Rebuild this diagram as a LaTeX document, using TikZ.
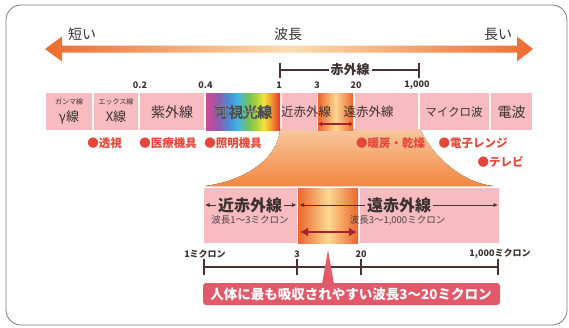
\documentclass[tikz,border=0pt]{standalone}
\usepackage{fontspec}
\setmainfont{Noto Sans CJK JP}
\usetikzlibrary{arrows.meta}
\definecolor{pinkbox}{HTML}{F7BBC0}
\definecolor{darktxt}{HTML}{3B3131}
\definecolor{graytxt}{HTML}{4A4444}
\definecolor{redtxt}{HTML}{E4473A}
\definecolor{orgA}{HTML}{EC652B}
\definecolor{orgB}{HTML}{FDD892}
\definecolor{arrEnd}{HTML}{EF6B2F}
\definecolor{arrMid}{HTML}{FCDDB0}
\definecolor{fanTop}{HTML}{F9C7A0}
\definecolor{fanBot}{HTML}{F3873F}
\definecolor{bannerc}{HTML}{E25A69}
\definecolor{darkred}{HTML}{A3222B}
\definecolor{framegray}{HTML}{7C7C7C}
\definecolor{brownline}{HTML}{4A3232}
\definecolor{rbA}{HTML}{D04A98}
\definecolor{rbB}{HTML}{9558A8}
\definecolor{rbC}{HTML}{4E8BD0}
\definecolor{rbD}{HTML}{40B4E4}
\definecolor{rbE}{HTML}{78C155}
\definecolor{rbF}{HTML}{A9CF3C}
\definecolor{rbG}{HTML}{F3E53A}
\definecolor{rbH}{HTML}{F49A30}
\definecolor{rbI}{HTML}{E5352A}
\pgfdeclarehorizontalshading{rainbow}{100bp}{color(0bp)=(rbA); color(25bp)=(rbA); color(32.5bp)=(rbB); color(40bp)=(rbC); color(46bp)=(rbD); color(54bp)=(rbE); color(59bp)=(rbF); color(64bp)=(rbG); color(69bp)=(rbH); color(75bp)=(rbI); color(100bp)=(rbI)}
\newcommand{\outl}[1]{\special{pdf:literal 2 Tr 0.7 w 0.3 0.3 0.3 RG}#1\special{pdf:literal 0 Tr}}
\newcommand{\fs}[1]{\fontsize{#1}{#1}\selectfont}
\begin{document}
\begin{tikzpicture}[x=1pt,y=-1pt,
  pbox/.style={fill=pinkbox, inner sep=0, outer sep=0, anchor=north west},
  gbox/.style={inner sep=0, outer sep=0, anchor=north west, left color=orgA, right color=orgA, middle color=orgB},
  lbl/.style={text=darktxt, inner sep=0},
  num/.style={text=darktxt, font=\bfseries\fs{9}, inner sep=0},
  usage/.style={text=redtxt, font=\bfseries\fs{11.5}, inner sep=0},
  dimarrow/.style={brownline, line width=0.7pt, -{Latex[length=4.5pt,width=4pt]}},
  axisline/.style={brownline, line width=1.1pt}]
\fill[white] (0,0) rectangle (569,327);
\useasboundingbox (0,0) rectangle (569,327);
\draw[framegray, line width=0.8pt, rounded corners=15pt] (6,5) rectangle (567,325);

% big wavelength arrow
\shade[left color=arrEnd, right color=arrEnd, middle color=arrMid]
  (45,49) -- (62,36.5) -- (62,45.5) -- (517,45.5) -- (517,36.5) -- (533,49)
  -- (517,61.5) -- (517,52.5) -- (62,52.5) -- (62,61.5) -- cycle;
\node[lbl, font=\fs{14}] (short) at (82,34) {短い};
\node[lbl, font=\fs{14}] (wl) at (288,34) {波長};
\node[lbl, font=\fs{14}] (long) at (498,34) {長い};

% infrared bracket
\coordinate (irL) at (280,70);
\coordinate (irR) at (419,70);
\draw[axisline] (irL) -- (irR);
\draw[axisline] (280,62.5) -- (280,77.5) (419,62.5) -- (419,77.5);
\node[fill=white, inner sep=2pt, text=darktxt, font=\bfseries\fs{13}] (ir) at (350,70) {赤外線};

% numbers
\node[num] (n02) at (140,85) {0.2};
\node[num] (n04) at (205.5,85) {0.4};
\node[num] (n1) at (279,85) {1};
\node[num] (n3) at (317,85) {3};
\node[num] (n20) at (356,85) {20};
\node[num] (n1000) at (417,85) {1,000};

% fan
\fill[top color=fanTop, bottom color=fanBot]
  (280,129) .. controls (279,155) and (250,180) .. (205,186) -- (493,186)
  .. controls (460,182) and (432,155) .. (420,129) -- cycle;

% upper spectrum row
\node[pbox, minimum width=46pt, minimum height=37pt] (gamma) at (46,93) {};
\node[pbox, minimum width=44pt, minimum height=37pt] (xray) at (94,93) {};
\node[pbox, minimum width=64pt, minimum height=37pt] (uv) at (140,93) {};
\node[inner sep=0, outer sep=0, anchor=north west, shade, shading=rainbow, minimum width=74pt, minimum height=37pt] (vis) at (206,93) {};
\node[pbox, minimum width=35pt, minimum height=37pt] (nir) at (282,93) {};
\node[gbox, minimum width=35pt, minimum height=37pt] (grad) at (318,93) {};
\node[pbox, minimum width=63pt, minimum height=37pt] (fir) at (355,93) {};
\node[pbox, minimum width=69pt, minimum height=37pt] (micro) at (420,93) {};
\node[pbox, minimum width=41pt, minimum height=37pt] (radio) at (491,93) {};
\draw[darkred, line width=1.6pt, {Latex[length=4pt,width=5pt]}-{Latex[length=4pt,width=5pt]}] (grad.west |- 0,124) coordinate (ga) -- (grad.east |- 0,124) coordinate (gb);

\node[lbl, font=\fs{7}] (gammasm) at (69,102) {ガンマ線};
\node[lbl, font=\fs{13}] (gammalb) at (69,117) {γ線};
\node[lbl, font=\fs{7}] (xraysm) at (116,102) {エックス線};
\node[lbl, font=\fs{13}] (xraylb) at (116,117) {X線};
\node[lbl, font=\fs{14}] (uvlb) at (172,112) {紫外線};
\node[inner sep=0, text=white, font=\fs{14.5}] (vislb) at (243,112) {\outl{可視光線}};
\node[lbl, font=\fs{12.5}] (nirlb) at (306,112) {近赤外線};
\node[lbl, font=\fs{12.5}] (firlb) at (368.5,112) {遠赤外線};
\node[lbl, font=\fs{11.5}] (microlb) at (454,112) {マイクロ波};
\node[lbl, font=\fs{14}] (radiolb) at (511.5,112) {電波};

% usages
\node[usage] (u1) at (104.5,143) {●透視};
\node[usage] (u2) at (168,143) {●医療機具};
\node[usage] (u3) at (233,143) {●照明機具};
\node[usage] (u4) at (390.5,143) {●暖房・乾燥};
\node[usage] (u5) at (473,143) {●電子レンジ};
\node[usage] (u6) at (500.5,162) {●テレビ};

% lower row
\node[pbox, minimum width=93pt, minimum height=55pt] (lnir) at (204,188) {};
\node[gbox, minimum width=60pt, minimum height=55pt] (lgrad) at (298,188) {};
\node[pbox, minimum width=139pt, minimum height=55pt] (lfir) at (360,188) {};

\node[text=darktxt, inner sep=1.5pt, font=\bfseries\fs{16}] (lnirlb) at (250,205) {近赤外線};
\node[text=graytxt, inner sep=0, font=\fs{9.5}] (lnirwl) at (250,220) {波長1〜3ミクロン};
\coordinate (lnirA) at (205,205);
\coordinate (lnirB) at (296.5,205);
\draw[dimarrow] (lnirlb.west) -- (lnirA);
\draw[dimarrow] (lnirlb.east) -- (lnirB);

\node[text=darktxt, inner sep=1.5pt, font=\bfseries\fs{16}] (lfirlb) at (399,205) {遠赤外線};
\node[text=graytxt, inner sep=0, font=\fs{9.5}] (lfirwl) at (397.5,220) {波長3〜1,000ミクロン};
\coordinate (lfirA) at (299.5,205);
\coordinate (lfirB) at (498,205);
\draw[dimarrow] (lfirlb.west) -- (lfirA);
\draw[dimarrow] (lfirlb.east) -- (lfirB);

\coordinate (rdA) at (300,232);
\coordinate (rdB) at (357,232);
\draw[darkred, line width=2.6pt, {Latex[length=8pt,width=9pt]}-{Latex[length=8pt,width=9pt]}] (rdA) -- (rdB);

% axis
\coordinate (ax1) at (204,267);
\coordinate (ax3) at (297,267);
\coordinate (ax20) at (361,267);
\coordinate (ax1000) at (498,267);
\draw[axisline] (ax1) -- (ax1000);
\foreach \p in {ax1,ax3,ax20,ax1000} \draw[axisline] ([yshift=8pt]\p) -- ([yshift=-8pt]\p);
\node[num] (t1) at (205,254) {1ミクロン};
\node[num] (t3) at (297,254) {3};
\node[num] (t20) at (361,254) {20};
\node[num] (t1000) at (500,254) {1,000ミクロン};

% banner
\fill[bannerc, rounded corners=3pt] (203,283) rectangle (500,305);
\fill[bannerc] (322,284) -- (328,250) -- (334,284) -- cycle;
\node[text=white, inner sep=0, font=\bfseries\fs{13.5}] (banner) at (351,294) {人体に最も吸収されやすい波長3〜20ミクロン};
\end{tikzpicture}
\end{document}
